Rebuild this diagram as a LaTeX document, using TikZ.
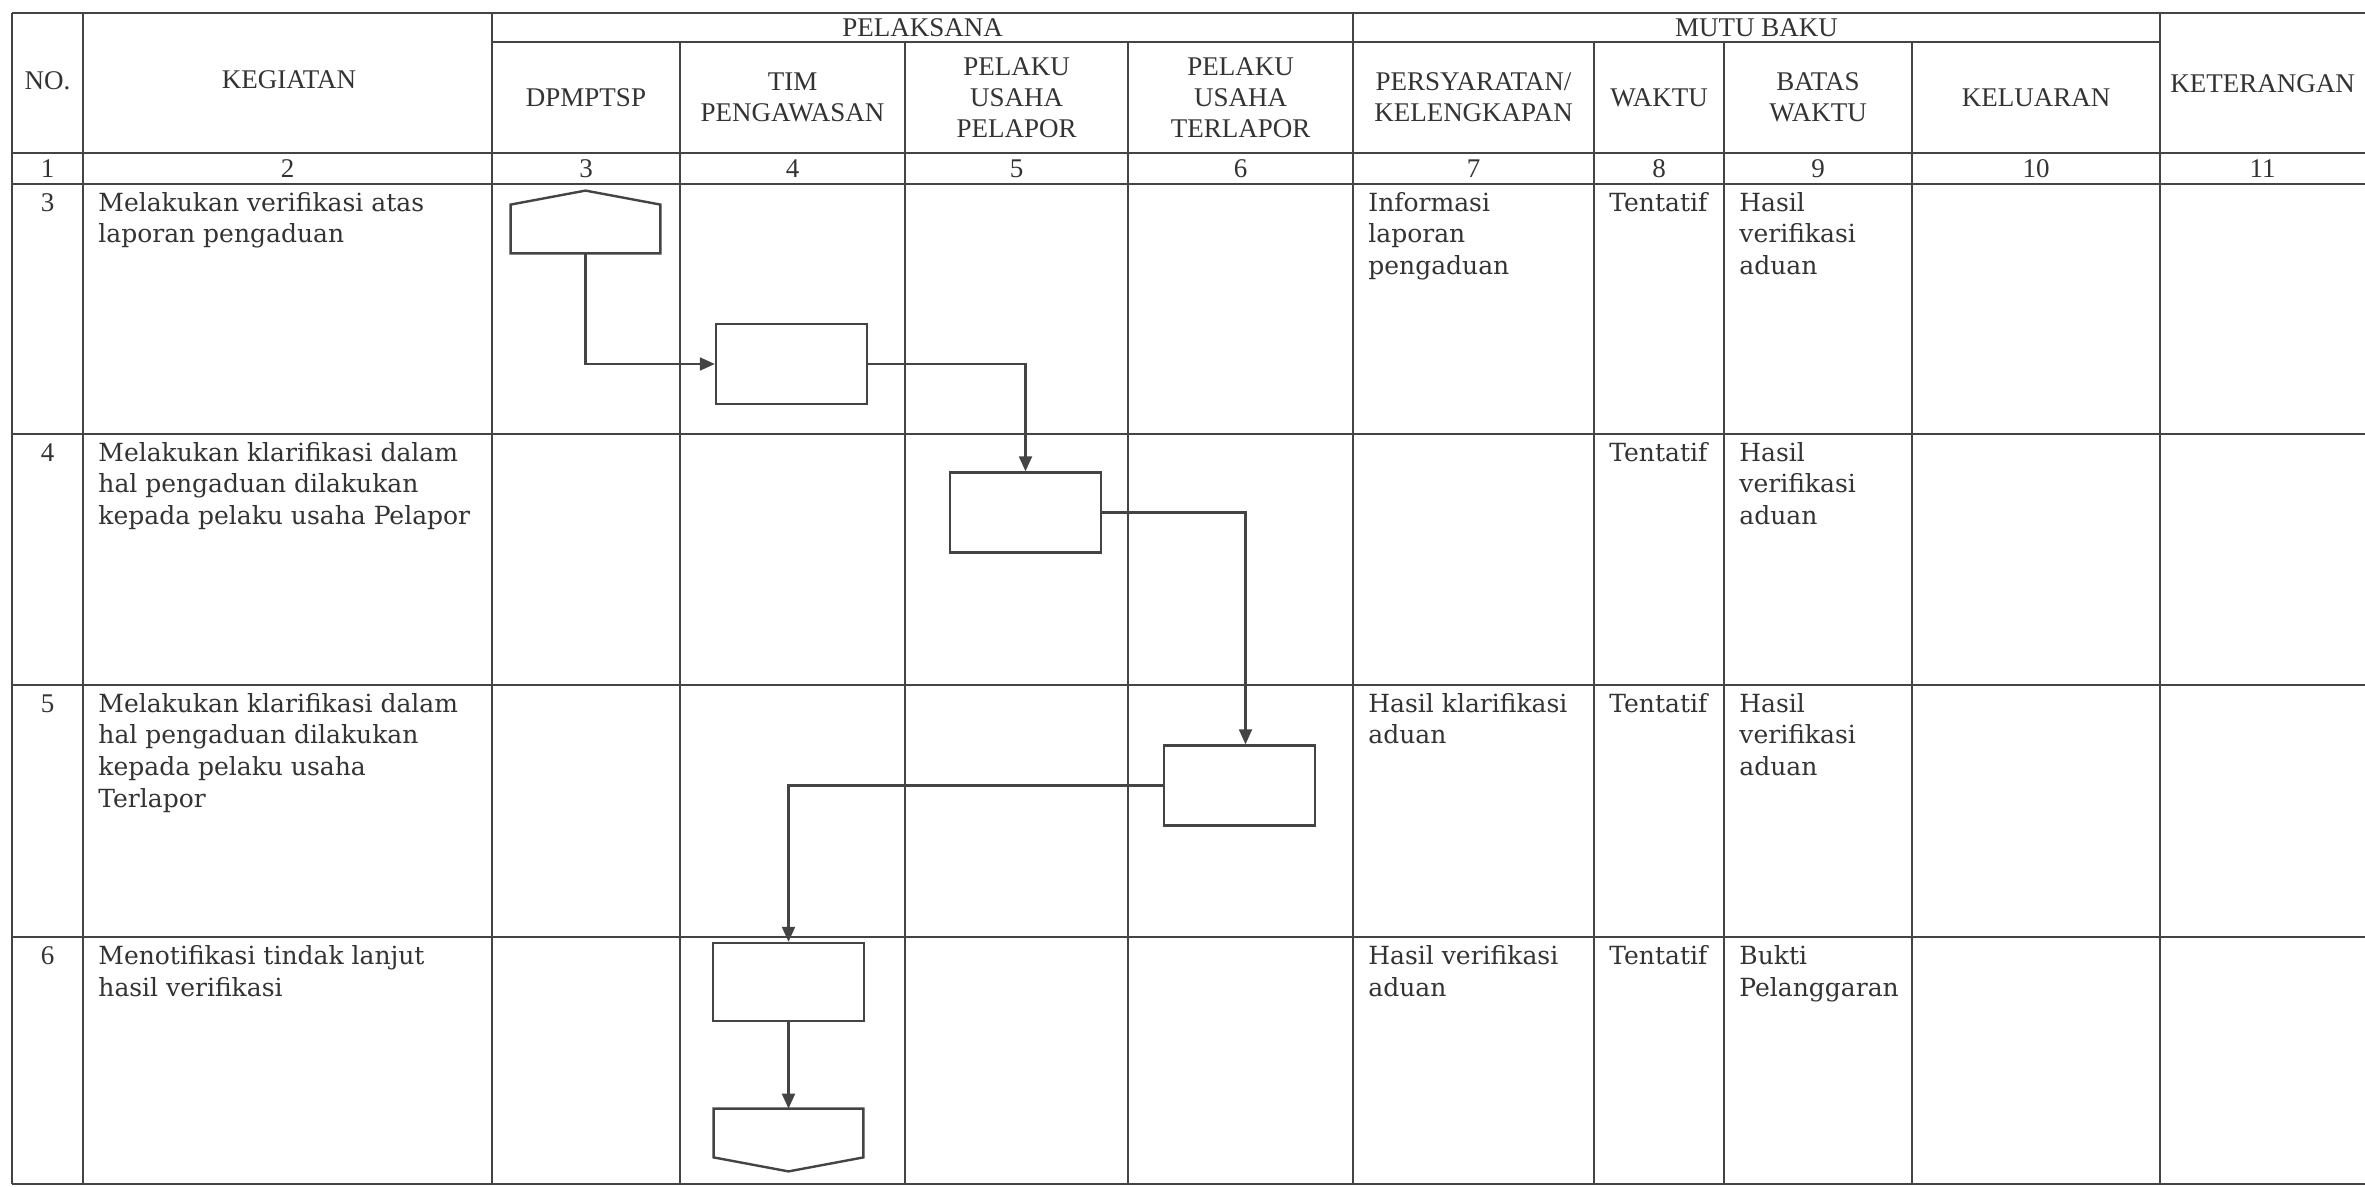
\documentclass[tikz,border=0pt]{standalone}
\usepackage{fontspec}
\setmainfont{DejaVu Serif}
\newfontfamily\hdrfamily{Liberation Serif}
\usetikzlibrary{arrows.meta}
\newcommand\hdrfont{\hdrfamily\fontsize{13.5}{15.5}\selectfont}
\newcommand\bodyfont{\fontsize{12.5}{15.8}\selectfont}
\definecolor{ink}{HTML}{333333}
\definecolor{rule}{HTML}{444444}
\begin{document}
\begin{tikzpicture}[x=0.5pt,y=-0.5pt,
  grid/.style={draw=rule, line width=0.8pt},
  hdr/.style={font=\hdrfont, align=center, text=ink, inner sep=0},
  num/.style={font=\hdrfont, anchor=north, text=ink, inner sep=0},
  body/.style={font=\bodyfont, align=left, anchor=north west, inner sep=0, text=ink},
  box/.style={draw=rule, line width=1.2pt, minimum width=75.5pt, minimum height=40pt, inner sep=0},
  shapearea/.style={minimum width=74.5pt, minimum height=31pt, inner sep=0},
  boxline/.style={draw=rule, line width=1.2pt, line join=miter},
  conn/.style={draw=rule, line width=1.05pt, -{Triangle[length=7.5pt,width=6.5pt]}}]
\fill[white] (0,0) rectangle (2365,1187);
\useasboundingbox (0,0) rectangle (2365,1187);

% table grid
\foreach \x in {12,83,492,1353,2160} \draw[grid] (\x,13) -- (\x,1184);
\foreach \x in {680,905,1128,1594,1724,1912} \draw[grid] (\x,42) -- (\x,1184);
\draw[grid] (12,13) -- (2365,13);
\draw[grid] (492,42) -- (2160,42);
\foreach \y in {153,184,434,685,937,1184} \draw[grid] (12,\y) -- (2365,\y);

% headers
\node[hdr] (hno) at (47.5,81) {NO.};
\node[hdr] (hkeg) at (289,80) {KEGIATAN};
\node[hdr] (hpel) at (922.5,27.5) {PELAKSANA};
\node[hdr] (hmutu) at (1756.5,27.5) {MUTU BAKU};
\node[hdr] (hket) at (2262.5,84) {KETERANGAN};
\node[hdr] (h3) at (586,97.5) {DPMPTSP};
\node[hdr] (h4) at (792.5,97.5) {TIM\\PENGAWASAN};
\node[hdr] (h5) at (1016.5,97.5) {PELAKU\\USAHA\\PELAPOR};
\node[hdr] (h6) at (1240.5,97.5) {PELAKU\\USAHA\\TERLAPOR};
\node[hdr] (h7) at (1473.5,97.5) {PERSYARATAN/\\KELENGKAPAN};
\node[hdr] (h8) at (1659,97.5) {WAKTU};
\node[hdr] (h9) at (1818,97.5) {BATAS\\WAKTU};
\node[hdr] (h10) at (2036,97.5) {KELUARAN};

% column numbers
\foreach \i/\x in {1/47.5,2/287.5,3/586,4/792.5,5/1016.5,6/1240.5,7/1473.5,8/1659,9/1818,10/2036,11/2262.5}
  \node[hdr] (n\i) at (\x,168.5) {\i};

% row 3
\node[num] (r3no) at (47.5,193) {3};
\node[body] (r3k) at (98,192) {Melakukan verifikasi atas\\laporan pengaduan};
\node[body] (r3p) at (1368,192) {Informasi\\laporan\\pengaduan};
\node[body] (r3w) at (1609,192) {Tentatif};
\node[body] (r3b) at (1739,192) {Hasil\\verifikasi\\aduan};

% row 4
\node[num] (r4no) at (47.5,443) {4};
\node[body] (r4k) at (98,442) {Melakukan klarifikasi dalam\\hal pengaduan dilakukan\\kepada pelaku usaha Pelapor};
\node[body] (r4w) at (1609,442) {Tentatif};
\node[body] (r4b) at (1739,442) {Hasil\\verifikasi\\aduan};

% row 5
\node[num] (r5no) at (47.5,694) {5};
\node[body] (r5k) at (98,693) {Melakukan klarifikasi dalam\\hal pengaduan dilakukan\\kepada pelaku usaha\\Terlapor};
\node[body] (r5p) at (1368,693) {Hasil klarifikasi\\aduan};
\node[body] (r5w) at (1609,693) {Tentatif};
\node[body] (r5b) at (1739,693) {Hasil\\verifikasi\\aduan};

% row 6
\node[num] (r6no) at (47.5,946) {6};
\node[body] (r6k) at (98,945) {Menotifikasi tindak lanjut\\hasil verifikasi};
\node[body] (r6p) at (1368,945) {Hasil verifikasi\\aduan};
\node[body] (r6w) at (1609,945) {Tentatif};
\node[body] (r6b) at (1739,945) {Bukti\\Pelanggaran};

% flow shapes
\node[shapearea] (p1) at (585.5,222) {};
\draw[boxline] (p1.south west) -- ([yshift=-7pt]p1.north west) -- (p1.north)
  -- ([yshift=-7pt]p1.north east) -- (p1.south east) -- cycle;
\node[box] (r1) at (791.5,364) {};
\node[box] (r2) at (1025.5,512.5) {};
\node[box] (r3) at (1239.5,785.5) {};
\node[box, minimum height=39pt] (r4) at (788.5,982) {};
\node[shapearea] (p2) at (788.5,1140) {};
\draw[boxline] (p2.north west) -- ([yshift=7pt]p2.south west) -- (p2.south)
  -- ([yshift=7pt]p2.south east) -- (p2.north east) -- cycle;

% connectors
\draw[conn] (p1.south) |- (r1.west);
\draw[conn] (r1.east) -| (r2.north);
\draw[conn] (r2.east) -| ([xshift=3pt]r3.north);
\draw[conn] (r3.west) -| (r4.north);
\draw[conn] (r4.south) -- (p2.north);
\end{tikzpicture}
\end{document}
